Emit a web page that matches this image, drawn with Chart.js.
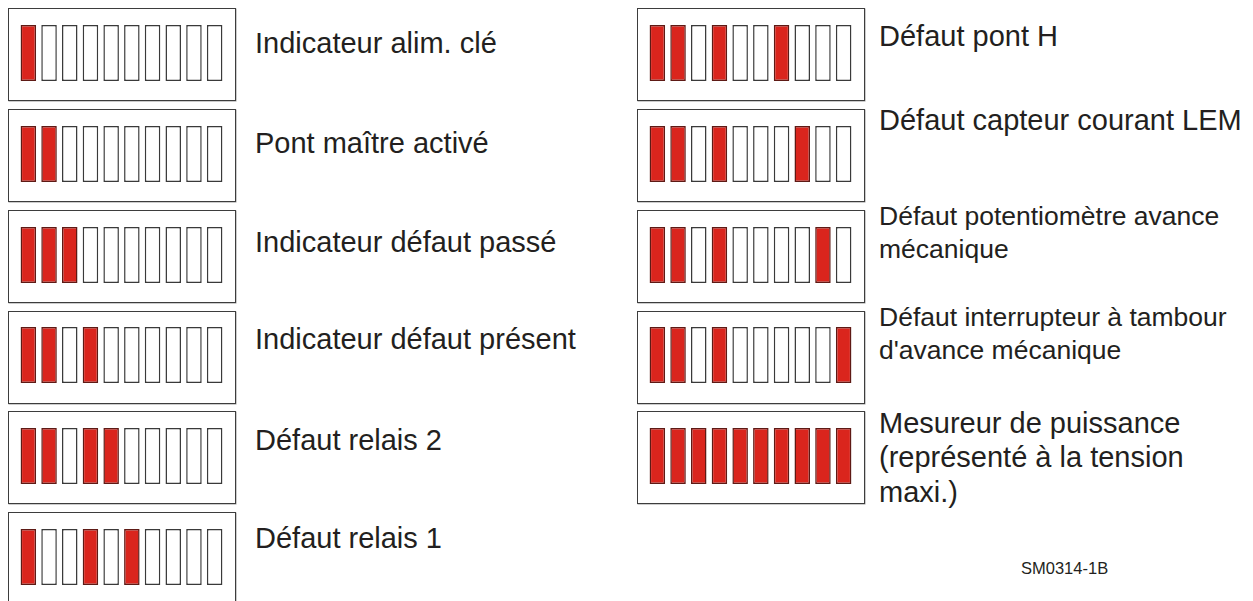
<!DOCTYPE html>
<html>
<head>
<meta charset="utf-8">
<script src="https://cdn.jsdelivr.net/npm/chart.js@4/dist/chart.umd.min.js"></script>
<style>
  html, body { margin:0; padding:0; background:#fff; width:1253px; height:601px; overflow:hidden; }
  body { position:relative; font-family:"Liberation Sans", Arial, sans-serif; color:#231f20; }
  .box { position:absolute; box-sizing:border-box; width:228px; height:93px; border:1.5px solid #3d3d3d; background:#fff; box-shadow:0.5px 0.5px 0 #9a9a9a; }
  .leds { position:absolute; left:9px; top:15.5px; width:207px; height:56px; }
  .label { position:absolute; white-space:nowrap; }
  .big { font-size:29px; line-height:34.5px; }
  .small { font-size:26.5px; line-height:33px; }
  #code { position:absolute; left:1021px; top:557px; font-size:16.5px; line-height:22px; }
</style>
</head>
<body>
<div id="code">SM0314-1B</div>
<script>
// ---- data ----
const ledSlots = ['1','2','3','4','5','6','7','8','9','10'];

const leftNames = [
  ['Indicateur alim. clé'],
  ['Pont maître activé'],
  ['Indicateur défaut passé'],
  ['Indicateur défaut présent'],
  ['Défaut relais 2'],
  ['Défaut relais 1']
];
const leftStates = [
  [1,0,0,0,0,0,0,0,0,0],
  [1,1,0,0,0,0,0,0,0,0],
  [1,1,1,0,0,0,0,0,0,0],
  [1,1,0,1,0,0,0,0,0,0],
  [1,1,0,1,1,0,0,0,0,0],
  [1,0,0,1,0,1,0,0,0,0]
];

const rightNames = [
  ['Défaut pont H'],
  ['Défaut capteur courant LEM'],
  ['Défaut potentiomètre avance', 'mécanique'],
  ['Défaut interrupteur à tambour', "d'avance mécanique"],
  ['Mesureur de puissance', '(représenté à la tension', 'maxi.)']
];
const rightStates = [
  [1,1,0,1,0,0,1,0,0,0],
  [1,1,0,1,0,0,0,1,0,0],
  [1,1,0,1,0,0,0,0,1,0],
  [1,1,0,1,0,0,0,0,0,1],
  [1,1,1,1,1,1,1,1,1,1]
];

// ---- layout / style ----
const rowTops = [8, 109, 210, 310.5, 411, 512];
const leftX = 8, rightX = 637;
const leftTextX = 255, rightTextX = 879;
const leftTextTops = [25.5, 125.5, 225, 321.5, 423, 520.5];
const rightTextTops = [18.5, 102.5, 199.5, 300.5, 405.5];
const ON_FILL = '#da251d', OFF_FILL = '#ffffff';
const ON_BORDER = '#5e1a15', OFF_BORDER = '#3a3a3a';

function makePanel(x, y, states) {
  const box = document.createElement('div');
  box.className = 'box';
  box.style.left = x + 'px';
  box.style.top = y + 'px';
  const wrap = document.createElement('div');
  wrap.className = 'leds';
  const cv = document.createElement('canvas');
  wrap.appendChild(cv);
  box.appendChild(wrap);
  document.body.appendChild(box);
  new Chart(cv, {
    type: 'bar',
    data: {
      labels: ledSlots,
      datasets: [{
        data: states.map(() => 1),
        backgroundColor: states.map(s => s ? ON_FILL : OFF_FILL),
        borderColor: states.map(s => s ? ON_BORDER : OFF_BORDER),
        borderWidth: 1.5,
        borderSkipped: false,
        barPercentage: 0.75,
        categoryPercentage: 1.0
      }]
    },
    options: {
      responsive: true,
      maintainAspectRatio: false,
      animation: false,
      events: [],
      layout: { padding: 0 },
      plugins: { legend: { display: false }, tooltip: { enabled: false } },
      scales: {
        x: { display: false },
        y: { display: false, min: 0, max: 1 }
      }
    }
  });
}

function makeLabel(x, y, lines, cls) {
  const d = document.createElement('div');
  d.className = 'label ' + cls;
  d.style.left = x + 'px';
  d.style.top = y + 'px';
  lines.forEach((t, i) => {
    if (i) d.appendChild(document.createElement('br'));
    d.appendChild(document.createTextNode(t));
  });
  document.body.appendChild(d);
}

leftStates.forEach((st, i) => {
  makePanel(leftX, rowTops[i], st);
  makeLabel(leftTextX, leftTextTops[i], leftNames[i], 'big');
});
rightStates.forEach((st, i) => {
  makePanel(rightX, rowTops[i], st);
  const cls = (rightNames[i].length === 2) ? 'small' : 'big';
  makeLabel(rightTextX, rightTextTops[i], rightNames[i], cls);
});
</script>
</body>
</html>
